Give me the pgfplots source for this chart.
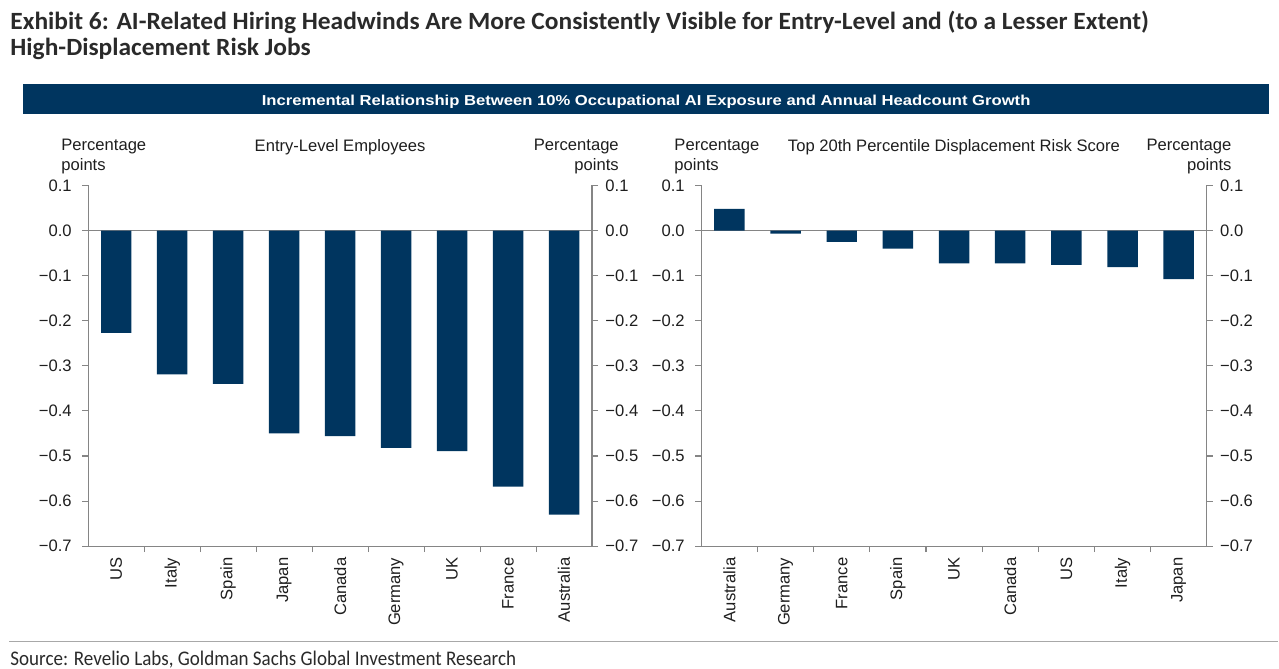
\documentclass[border=0pt]{standalone}
\usepackage{fontspec}
\setmainfont{Liberation Sans}
\newfontfamily\gsfont{Carlito}
\usepackage{graphicx}
\usepackage{pgfplots}
\usepackage{pgfplotstable}
\pgfplotsset{compat=1.18}
\definecolor{navy}{HTML}{00355F}
\definecolor{axgray}{HTML}{858585}
\definecolor{txt}{HTML}{1E1E1E}
\definecolor{ttl}{HTML}{2A2A2A}
\definecolor{rulec}{HTML}{A8A8A8}
\newlength\tw
\newcommand\titlefont{\gsfont\bfseries\fontsize{12.4}{14}\selectfont}

\pgfplotstableread{
x v
0 -0.227
1 -0.319
2 -0.340
3 -0.450
4 -0.456
5 -0.482
6 -0.489
7 -0.568
8 -0.630
}\entrytab

\pgfplotstableread{
x v
0 0.048
1 -0.007
2 -0.025
3 -0.040
4 -0.073
5 -0.073
6 -0.076
7 -0.081
8 -0.108
}\risktab

\pgfplotsset{
  gsbase/.style={
    scale only axis, height=180.5pt, anchor=south west,
    xmin=-0.5, xmax=8.5, ymin=-0.7, ymax=0.1,
    axis line style={axgray, line width=0.55pt},
    tick style={axgray, line width=0.55pt},
    tick align=outside, major tick length=3pt,
    ytick={-0.7,-0.6,-0.5,-0.4,-0.3,-0.2,-0.1,0,0.1},
    yticklabels={−0.7,−0.6,−0.5,−0.4,−0.3,−0.2,−0.1,0.0,0.1},
    y tick label style={font=\fontsize{8.3}{10}\selectfont, text=txt},
    clip=false,
  },
  gsleft/.style={
    gsbase,
    axis x line*=bottom, axis y line*=left,
    xtick={0.5,1.5,2.5,3.5,4.5,5.5,6.5,7.5}, xticklabels={},
    extra x ticks={0,1,2,3,4,5,6,7,8},
    extra x tick style={major tick length=0pt, tick style={draw=none}},
    x tick label style={rotate=90, anchor=east, font=\fontsize{8.3}{10}\selectfont, text=txt},
    xticklabel shift=2.2pt,
    yticklabel shift=1.8pt,
    ybar, bar width=15.25pt,
  },
  gsright/.style={
    gsbase,
    axis y line*=right, axis x line=none,
    xtick=\empty,
    yticklabel shift=0.2pt,
  },
}

\begin{document}%
\settowidth\tw{\titlefont Exhibit 6: AI-Related Hiring Headwinds Are More Consistently Visible for Entry-Level and (to a Lesser Extent)}%
\pgfmathsetmacro\tf{569.5/(\tw/1pt)}%
\begin{tikzpicture}
\path (0,0) rectangle (639.5pt,-334pt);

% ---- title ----
\node[anchor=base west, inner sep=0pt, text=ttl] at (5pt,-14.65pt)
  {\scalebox{\tf}[1]{\titlefont Exhibit 6: AI-Related Hiring Headwinds Are More Consistently Visible for Entry-Level and (to a Lesser Extent)}};
\node[anchor=base west, inner sep=0pt, text=ttl] at (5pt,-28pt)
  {\scalebox{\tf}[1]{\titlefont High-Displacement Risk Jobs}};

% ---- banner ----
\fill[navy] (11.6pt,-42pt) rectangle (634.6pt,-57.2pt);
\node[anchor=base, inner sep=0pt, text=white] at (323.2pt,-53pt)
  {\resizebox{384.5pt}{\height}{\bfseries\fontsize{7.2}{8}\selectfont Incremental Relationship Between 10\% Occupational AI Exposure and Annual Headcount Growth}};

% ---- headings ----
\tikzset{hd/.style={inner sep=0pt, text=txt, font=\fontsize{8.3}{10}\selectfont}}
\node[hd, anchor=base west] at (30.5pt,-75.4pt) {Percentage};
\node[hd, anchor=base west] at (30.5pt,-85.4pt) {points};
\node[hd, anchor=base east] at (309.7pt,-75.4pt) {Percentage};
\node[hd, anchor=base east] at (309.7pt,-85.4pt) {points};
\node[hd, anchor=base] at (170.1pt,-75.6pt) {Entry-Level Employees};

\node[hd, anchor=base west] at (337.2pt,-75.4pt) {Percentage};
\node[hd, anchor=base west] at (337.2pt,-85.4pt) {points};
\node[hd, anchor=base east] at (616.2pt,-75.4pt) {Percentage};
\node[hd, anchor=base east] at (616.2pt,-85.4pt) {points};
\node[hd, anchor=base] at (477.2pt,-75.6pt) {Top 20th Percentile Displacement Risk Score};

% ---- left chart ----
\begin{axis}[gsleft, width=252pt, at={(44.15pt,-273.25pt)},
  extra x tick labels={US,Italy,Spain,Japan,Canada,Germany,UK,France,Australia}]
  \draw[axgray, line width=0.55pt] (axis cs:-0.5,0) -- (axis cs:8.5,0);
  \addplot[fill=navy, draw=none] table[x=x, y=v] {\entrytab};
\end{axis}
\begin{axis}[gsright, width=252pt, at={(44.15pt,-273.25pt)}]
\end{axis}

% ---- right chart ----
\begin{axis}[gsleft, width=252.8pt, at={(350.85pt,-273.25pt)},
  extra x tick labels={Australia,Germany,France,Spain,UK,Canada,US,Italy,Japan}]
  \draw[axgray, line width=0.55pt] (axis cs:-0.5,0) -- (axis cs:8.5,0);
  \addplot[fill=navy, draw=none] table[x=x, y=v] {\risktab};
\end{axis}
\begin{axis}[gsright, width=252.8pt, at={(350.85pt,-273.25pt)}]
\end{axis}

% ---- source ----
\draw[rulec, line width=0.6pt] (4.65pt,-320.85pt) -- (639.5pt,-320.85pt);
\node[anchor=base west, inner sep=0pt, text=ttl] at (5pt,-332.85pt)
  {\resizebox{253pt}{\height}{\gsfont\fontsize{10.4}{12}\selectfont Source: Revelio Labs, Goldman Sachs Global Investment Research}};
\end{tikzpicture}%
\end{document}
